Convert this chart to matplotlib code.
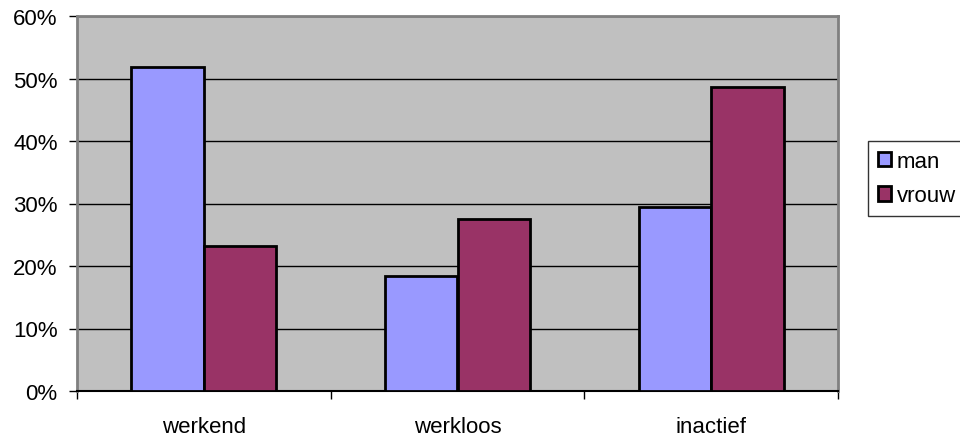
import matplotlib
matplotlib.use("Agg")
import matplotlib.pyplot as plt
import numpy as np
from matplotlib.ticker import FuncFormatter, FixedLocator

categories = ["werkend", "werkloos", "inactief"]
man = [51.8, 18.4, 29.5]
vrouw = [23.2, 27.6, 48.7]
series_names = ["man", "vrouw"]
y_ticks = [0, 10, 20, 30, 40, 50, 60]

plt.rcParams["font.family"] = ["Liberation Sans", "DejaVu Sans"]

fig = plt.figure(figsize=(9.6, 4.39), dpi=100)
ax = fig.add_axes([77 / 960, 47 / 439, 761 / 960, 375 / 439])
ax.set_facecolor("#C0C0C0")

x = np.arange(len(categories))
w = 1 / 3.5
ax.bar(x - w / 2, man, width=w, color="#9999FF", edgecolor="black",
       linewidth=2, label=series_names[0], zorder=3)
ax.bar(x + w / 2, vrouw, width=w, color="#993366", edgecolor="black",
       linewidth=2, label=series_names[1], zorder=3)

ax.set_xlim(-0.5, len(categories) - 0.5)
ax.set_ylim(0, 60)
ax.set_yticks(y_ticks)
ax.yaxis.set_major_formatter(FuncFormatter(lambda v, p: f"{v:.0f}%"))
ax.yaxis.grid(True, color="black", linewidth=1, zorder=1)
ax.set_axisbelow(True)

# category labels centred, tick marks at the boundaries between groups
ax.set_xticks(x)
ax.set_xticklabels(categories)
ax.tick_params(axis="x", which="major", length=0, pad=18, labelsize=16)
ax.xaxis.set_minor_locator(FixedLocator(np.arange(-0.5, len(categories), 1)))
ax.tick_params(axis="x", which="minor", length=6, width=1, color="black")
ax.tick_params(axis="y", length=6, width=1, color="black", pad=8, labelsize=16)

for side in ["top", "right", "left"]:
    ax.spines[side].set_color("#808080")
    ax.spines[side].set_linewidth(2)
ax.spines["bottom"].set_color("black")
ax.spines["bottom"].set_linewidth(1.5)

leg = ax.legend(loc="upper left", bbox_to_anchor=(868 / 960, 297 / 439),
                bbox_transform=fig.transFigure, frameon=True, fancybox=False,
                fontsize=16, handlelength=0.6, handleheight=0.6,
                handletextpad=0.25, labelspacing=0.6, borderpad=0.45,
                borderaxespad=0)
leg.get_frame().set_edgecolor("black")
leg.get_frame().set_linewidth(1)
for h in leg.legend_handles:
    h.set_linewidth(2)

fig.savefig("out.png", dpi=100)
